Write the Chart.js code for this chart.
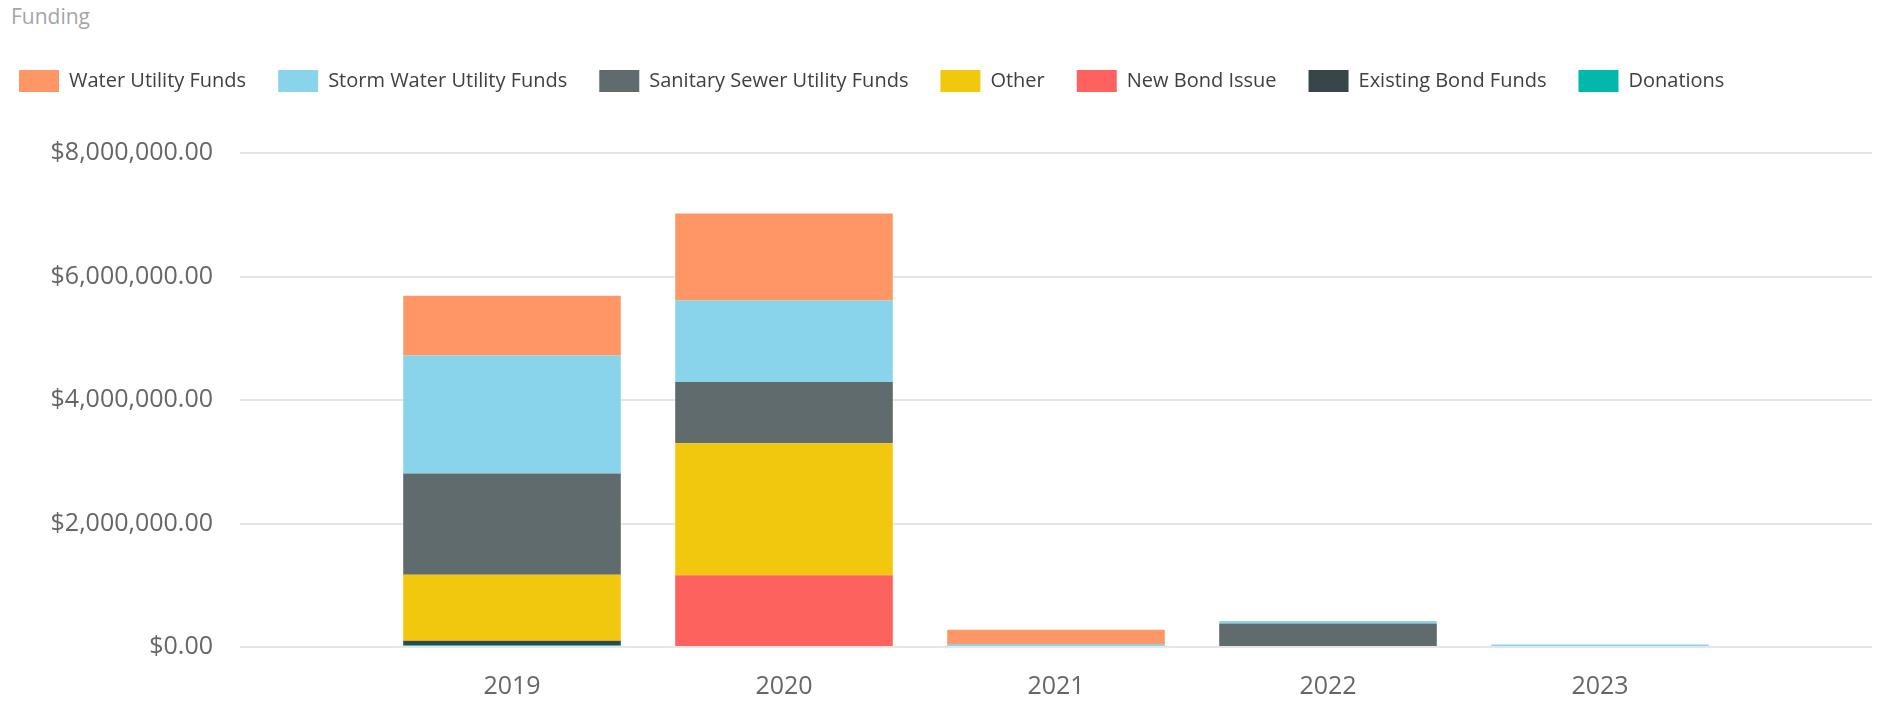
<!DOCTYPE html>
<html>
<head>
<meta charset="utf-8">
<title>Funding</title>
<script src="https://cdn.jsdelivr.net/npm/chart.js@4.4.1/dist/chart.umd.min.js"></script>
<style>
    html, body { margin: 0; padding: 0; background: #ffffff; overflow: hidden; }
    body { width: 1884px; height: 702px; position: relative; }
    #title {
        position: absolute; left: 11px; top: 2px;
        font-family: 'Open Sans', sans-serif; font-size: 21px; color: #a6a6a6;
    }
    #wrap { position: absolute; left: -13px; top: 0; width: 1897px; height: 702px; }
</style>
</head>
<body>
<div id="title">Funding</div>
<div id="wrap"><canvas id="fundingChart"></canvas></div>
<script>
// Chart data
const years = [2019, 2020, 2021, 2022, 2023];

const waterUtility   = [970000, 1410000, 230000, 0, 0];
const stormWater     = [1910000, 1320000, 50000, 40000, 40000];
const sanitarySewer  = [1640000, 990000, 0, 380000, 0];
const other          = [1070000, 2140000, 0, 0, 0];
const newBondIssue   = [0, 1160000, 0, 0, 0];
const existingBond   = [70000, 0, 0, 0, 0];
const donations      = [30000, 0, 0, 0, 0];

const yTicks = [0, 2000000, 4000000, 6000000, 8000000];

const money = new Intl.NumberFormat('en-US', { style: 'currency', currency: 'USD', minimumFractionDigits: 2 });
const toPoints = vals => years.map((yr, i) => ({ x: yr, y: vals[i] }));

const axisFont = { family: "'Open Sans', sans-serif", size: 25 };

// make the legend band tall enough so the plot starts where the reference does
const legendSpacer = {
    id: 'legendSpacer',
    beforeInit(chart) {
        const fit = chart.legend.fit;
        chart.legend.fit = function () {
            fit.call(this);
            this.height = 115;
        };
    }
};

const ctx = document.getElementById('fundingChart').getContext('2d');

// datasets listed bottom-to-top of the stack; legend is reversed
new Chart(ctx, {
    type: 'bar',
    data: {
        datasets: [
            { label: 'Donations', data: toPoints(donations), backgroundColor: '#01B8AA' },
            { label: 'Existing Bond Funds', data: toPoints(existingBond), backgroundColor: '#374649' },
            { label: 'New Bond Issue', data: toPoints(newBondIssue), backgroundColor: '#FD625E' },
            { label: 'Other', data: toPoints(other), backgroundColor: '#F2C80F' },
            { label: 'Sanitary Sewer Utility Funds', data: toPoints(sanitarySewer), backgroundColor: '#5F6B6D' },
            { label: 'Storm Water Utility Funds', data: toPoints(stormWater), backgroundColor: '#8AD4EB' },
            { label: 'Water Utility Funds', data: toPoints(waterUtility), backgroundColor: '#FE9666' }
        ]
    },
    options: {
        responsive: true,
        maintainAspectRatio: false,
        animation: false,
        barPercentage: 0.8,
        categoryPercentage: 1,
        layout: { padding: { top: 38, left: 0, right: 12, bottom: 0 } },
        plugins: {
            legend: {
                position: 'top',
                align: 'start',
                reverse: true,
                labels: {
                    boxWidth: 40,
                    boxHeight: 22,
                    padding: 32,
                    color: '#404040',
                    font: { family: "'Open Sans', sans-serif", size: 20 }
                }
            },
            tooltip: { enabled: false }
        },
        scales: {
            x: {
                type: 'linear',
                offset: false,
                min: 2018,
                max: 2024,
                stacked: true,
                grid: { display: false, drawTicks: false },
                border: { display: false },
                afterBuildTicks: scale => { scale.ticks = years.map(v => ({ value: v })); },
                afterFit: scale => { scale.height = 55; },
                ticks: {
                    padding: 25,
                    maxRotation: 0,
                    color: '#666666',
                    font: axisFont,
                    callback: v => String(v)
                }
            },
            y: {
                stacked: true,
                min: 0,
                max: 8000000,
                afterBuildTicks: scale => { scale.ticks = yTicks.map(v => ({ value: v })); },
                afterFit: scale => { scale.width = 253; },
                grid: { color: '#e6e6e6', lineWidth: 2, drawTicks: false },
                border: { display: false },
                ticks: {
                    padding: 27,
                    color: '#666666',
                    font: axisFont,
                    callback: v => money.format(v)
                }
            }
        }
    },
    plugins: [legendSpacer]
});
</script>
</body>
</html>
